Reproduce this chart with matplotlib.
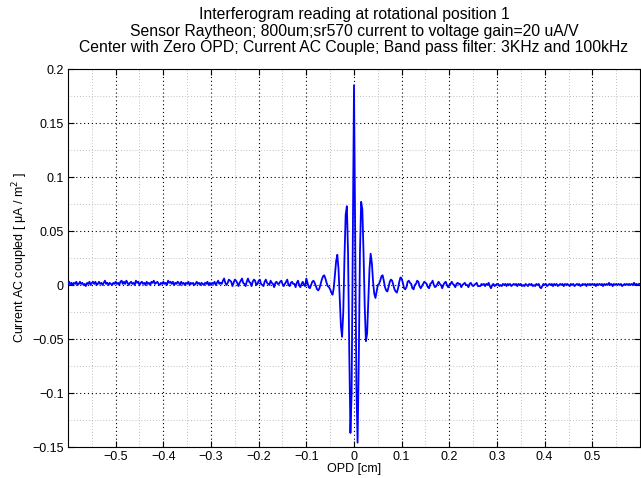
import numpy as np
import matplotlib
matplotlib.use("Agg")
import matplotlib.pyplot as plt
from matplotlib.ticker import MultipleLocator, FixedLocator, FuncFormatter

plt.rcParams['font.family'] = ['Liberation Sans', 'DejaVu Sans']

# OPD sample positions [cm] (regular sampling grid, -0.6 .. 0.6, step 0.0025)
opd = np.linspace(-0.6, 0.6, 481)

# Current AC coupled values, one row per 0.1 cm
seg_m06 = [0.001, 0.003, 0.000, 0.002, 0.000, 0.002, 0.001, 0.003, 0.000, 0.001,
           0.003, 0.001, 0.002, 0.000, 0.001, -0.001, 0.002, 0.001, 0.003, 0.000,
           0.002, 0.003, 0.001, 0.003, 0.000, 0.001, 0.003, 0.001, 0.002, 0.000,
           0.002, 0.004, 0.001, 0.002, 0.000, 0.002, 0.001, 0.000, 0.002, 0.001]
seg_m05 = [0.003, 0.001, 0.002, 0.000, 0.003, 0.004, 0.001, 0.003, 0.001, 0.004,
           0.002, 0.000, 0.002, 0.003, 0.001, 0.002, 0.000, 0.004, 0.002, 0.003,
           0.000, 0.002, 0.003, 0.001, 0.002, 0.000, 0.003, 0.001, 0.002, 0.000,
           0.003, 0.002, 0.004, 0.001, 0.002, 0.003, 0.001, 0.000, 0.002, 0.001]
seg_m04 = [0.003, 0.001, 0.002, 0.000, 0.004, 0.002, 0.003, 0.001, 0.003, 0.000,
           0.002, 0.001, 0.003, 0.002, 0.000, 0.003, 0.001, 0.002, 0.000, 0.002,
           0.001, 0.003, 0.000, 0.002, 0.001, 0.002, 0.000, 0.001, 0.003, 0.001,
           0.002, 0.000, 0.002, 0.001, 0.000, 0.002, 0.001, 0.003, 0.000, 0.002]
seg_m03 = [0.000, 0.002, 0.001, 0.003, 0.000, 0.002, 0.004, 0.001, 0.002, 0.001,
           0.004, 0.006, 0.002, 0.000, 0.002, 0.005, 0.004, 0.003, -0.001, 0.002,
           0.005, 0.004, 0.002, -0.001, 0.002, 0.004, 0.006, 0.002, 0.001, -0.001,
           0.003, 0.006, 0.003, 0.002, -0.001, 0.003, 0.005, 0.004, 0.000, 0.001]
seg_m02 = [0.004, 0.005, 0.001, 0.000, -0.001, 0.003, 0.005, 0.002, 0.001, 0.000,
           0.004, 0.002, 0.001, -0.002, 0.002, 0.003, 0.001, 0.001, 0.003, 0.004,
           0.001, -0.001, 0.001, 0.003, 0.005, 0.000, -0.001, 0.002, 0.003, 0.001,
           0.001, -0.002, 0.002, 0.004, 0.000, -0.002, 0.001, 0.003, 0.000, -0.001]
seg_center = [0.006, 0.002, -0.002, -0.003, 0.000, 0.003, 0.004, 0.002, -0.001, -0.004,
              -0.005, -0.003, 0.001, 0.005, 0.008, 0.009, 0.006, 0.002, -0.001, -0.002,
              -0.004, -0.007, -0.009, -0.003, 0.010, 0.022, 0.028, 0.015, -0.012, -0.038,
              -0.048, -0.025, 0.025, 0.065, 0.073, 0.030, -0.060, -0.137, -0.100, 0.040,
              0.185,
              0.050, -0.092, -0.146, -0.070, 0.030, 0.077, 0.070, 0.030, -0.020, -0.052,
              -0.045, -0.015, 0.015, 0.029, 0.020, 0.003, -0.008, -0.012, -0.006, 0.000,
              0.001, 0.004, 0.008, 0.009, 0.004, -0.002, -0.005, -0.006, -0.002, 0.003,
              0.005, 0.004, 0.000, -0.004, -0.006, -0.007, -0.003, 0.003, 0.007, 0.006]
seg_p01 = [0.002, -0.003, -0.004, -0.002, 0.003, 0.004, 0.002, 0.001, -0.003, -0.004,
           0.000, 0.001, 0.004, 0.003, -0.001, -0.003, -0.001, 0.001, 0.003, 0.002,
           0.001, -0.002, -0.003, 0.001, 0.002, 0.004, 0.000, -0.002, -0.001, 0.001,
           0.003, 0.001, 0.000, -0.003, 0.000, 0.002, 0.003, 0.000, -0.002, 0.000]
seg_p02 = [0.001, 0.003, 0.001, 0.000, -0.002, 0.001, 0.002, 0.001, 0.001, -0.002,
           0.000, 0.001, 0.002, 0.000, 0.000, -0.002, 0.001, 0.002, 0.000, -0.001,
           0.000, 0.001, 0.002, -0.001, -0.001, -0.001, 0.001, 0.000, 0.001, -0.001,
           0.001, 0.000, 0.002, -0.001, -0.003, 0.000, 0.001, -0.001, 0.000, 0.001]
seg_p03 = [0.001, -0.001, 0.000, -0.001, 0.001, 0.000, 0.001, -0.001, 0.001, 0.000,
           0.001, -0.001, 0.000, 0.001, 0.000, 0.001, -0.001, 0.001, 0.000, 0.001,
           -0.001, 0.000, -0.001, 0.001, 0.000, -0.001, 0.001, 0.000, 0.001, -0.001,
           0.000, -0.001, 0.001, 0.000, 0.001, -0.002, -0.003, -0.001, 0.001, 0.000]
seg_p04 = [0.001, -0.001, 0.000, 0.001, 0.000, 0.001, -0.001, 0.001, 0.000, 0.001,
           -0.001, 0.000, 0.001, 0.000, 0.001, -0.001, 0.001, 0.000, 0.001, 0.000,
           -0.001, 0.001, 0.000, 0.001, -0.001, 0.000, 0.001, 0.000, 0.001, -0.001,
           0.000, 0.001, 0.000, 0.001, -0.001, 0.001, 0.000, 0.001, 0.000, 0.001]
seg_p05 = [0.000, 0.001, -0.001, 0.001, 0.000, 0.001, 0.000, 0.001, -0.001, 0.001,
           0.000, 0.001, 0.000, 0.002, 0.000, 0.001, -0.001, 0.001, 0.000, 0.001,
           0.000, 0.001, 0.000, 0.001, -0.001, 0.000, 0.001, 0.000, 0.001, 0.000,
           0.001, 0.000, 0.001, 0.000, 0.002, 0.000, 0.001, 0.000, 0.001, 0.001]

current = np.array(seg_m06 + seg_m05 + seg_m04 + seg_m03 + seg_m02 + seg_center +
                   seg_p01 + seg_p02 + seg_p03 + seg_p04 + seg_p05)

x_ticks = [-0.5, -0.4, -0.3, -0.2, -0.1, 0.0, 0.1, 0.2, 0.3, 0.4, 0.5]
y_ticks = [-0.15, -0.1, -0.05, 0.0, 0.05, 0.1, 0.15, 0.2]

title_lines = ["Interferogram reading at rotational position 1",
               "Sensor Raytheon; 800um;sr570 current to voltage gain=20 uA/V",
               "Center with Zero OPD; Current AC Couple; Band pass filter: 3KHz and 100kHz"]

fig = plt.figure(figsize=(6.41, 4.78), dpi=100)
ax = fig.add_axes([68/641, 31/478, 572/641, 378/478])

ax.plot(opd, current, color=(0, 0, 1), linewidth=1.3, zorder=3)

ax.set_xlim(-0.6, 0.6)
ax.set_ylim(-0.15, 0.2)
ax.xaxis.set_major_locator(FixedLocator(x_ticks))
ax.yaxis.set_major_locator(FixedLocator(y_ticks))
ax.xaxis.set_minor_locator(MultipleLocator(0.05))
ax.yaxis.set_minor_locator(MultipleLocator(0.025))

def fmt(v, pos):
    s = ('%g' % round(v, 4))
    if s == '-0':
        s = '0'
    return s.replace('-', '\u2212')

ax.xaxis.set_major_formatter(FuncFormatter(fmt))
ax.yaxis.set_major_formatter(FuncFormatter(fmt))

ax.grid(True, which='major', color='black', linestyle=(0, (1, 2.5)), linewidth=0.8, zorder=1)
ax.grid(True, which='minor', color='#a8a8a8', linestyle=(0, (1, 2.5)), linewidth=0.6, zorder=1)
ax.set_axisbelow(True)

ax.tick_params(which='major', direction='in', length=4, width=0.8, top=True, right=True,
               labelsize=9, pad=3)
ax.tick_params(which='minor', length=0)
for s in ax.spines.values():
    s.set_linewidth(0.8)

ax.set_xlabel('OPD [cm]', fontsize=9, labelpad=0)
ax.set_ylabel('Current AC coupled [ \u03bcA / m$^2$ ]', fontsize=9, labelpad=2)
ax.set_title('\n'.join(title_lines), fontsize=11.3, linespacing=1.12, pad=12)

fig.savefig('out.png', dpi=100)
